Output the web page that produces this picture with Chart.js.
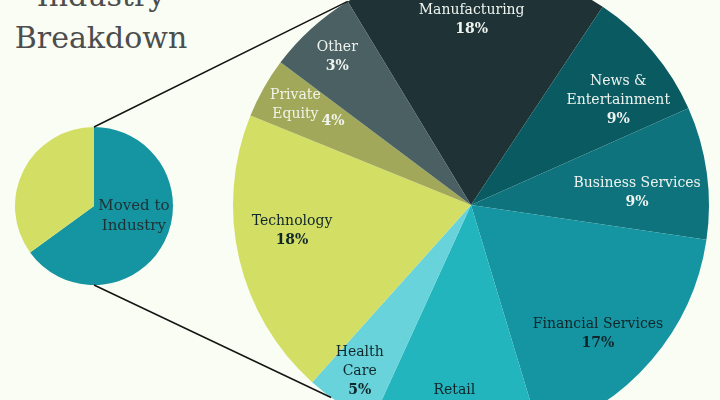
<!DOCTYPE html>
<html>
<head>
<meta charset="utf-8">
<script src="https://cdn.jsdelivr.net/npm/chart.js@4"></script>
<style>
  html, body { margin: 0; padding: 0; }
  body {
    width: 720px; height: 400px; overflow: hidden; position: relative;
    background: #f9fdf3;
  }
  #title {
    position: absolute; left: 0; top: -25px; width: 202px;
    text-align: center; font-family: "DejaVu Serif", serif;
    font-size: 30px; line-height: 42px; color: #4d4d4d;
  }
  #smallPie { position: absolute; left: 15px; top: 127px; }
  #bigPie { position: absolute; left: 221px; top: -45px; }
  #links { position: absolute; left: 0; top: 0; pointer-events: none; }
</style>
</head>
<body>
<div id="title">Industry<br>Breakdown</div>
<canvas id="smallPie" width="158" height="158"></canvas>
<canvas id="bigPie" width="500" height="500"></canvas>
<canvas id="links" width="720" height="400"></canvas>

<script>
// ---- data ----
const movedLabels = ['Moved to\nIndustry', 'Other'];
const movedShares = [65, 35];

const industries = ['Manufacturing', 'News &\nEntertainment', 'Business Services',
    'Financial Services', 'Retail', 'Health\nCare', 'Technology', 'Private\nEquity', 'Other'];
const industryShares = [18, 9, 9, 18, 11.5, 4.8, 19.5, 4.1, 6.1];
// percentages as printed on the slices
const printedPct = ['18%', '9%', '9%', '17%', '12%', '5%', '18%', '4%', '3%'];

// ---- styling / layout ----
const industryColors = ['#1f3236', '#0a5a62', '#0f737d', '#1594a1', '#23b5be',
    '#68d3da', '#d2df64', '#a2a85a', '#4a6062'];
const industryText = ['#eef3ee', '#eef3ee', '#eef3ee', '#10262a', '#10262a',
    '#10262a', '#10262a', '#f2f4ea', '#eef3ee'];
// [angle offset from slice middle (deg), fraction of radius]
const industrySpots = [[-1, 0.78], [4.7, 0.76], [3.5, 0.70], [4.6, 0.76], [1, 0.82],
    [0.6, 0.84], [4.7, 0.76], [0.3, 0.85], [0.2, 0.84]];
const SERIF = '"DejaVu Serif", serif';

const labelPlugin = {
    id: 'sliceLabels',
    afterDatasetsDraw(chart, args, opts) {
        const ctx = chart.ctx;
        const meta = chart.getDatasetMeta(0);
        ctx.save();
        ctx.textAlign = 'center';
        ctx.textBaseline = 'middle';
        meta.data.forEach((arc, i) => {
            const spot = opts.spots[i];
            if (!spot) return;
            const mid = (arc.startAngle + arc.endAngle) / 2 + spot[0] * Math.PI / 180;
            const r = arc.outerRadius * spot[1];
            const x = arc.x + Math.cos(mid) * r;
            const y = arc.y + Math.sin(mid) * r;
            const lines = opts.names[i].split('\n');
            const pct = opts.pcts ? opts.pcts[i] : null;
            const inline = opts.inline && opts.inline[i];
            const n = lines.length + (pct && !inline ? 1 : 0);
            const lh = opts.lineHeight;
            let y0 = y - (n - 1) * lh / 2;
            ctx.fillStyle = opts.colors[i];
            ctx.font = opts.font;
            lines.forEach((ln, k) => ctx.fillText(ln, x, y0 + k * lh));
            if (pct) {
                if (inline) {
                    const w = ctx.measureText(lines[lines.length - 1]).width;
                    ctx.font = 'bold ' + opts.font;
                    ctx.textAlign = 'left';
                    ctx.fillText(pct, x + w / 2 + 3, y0 + (lines.length - 1) * lh + 7);
                    ctx.textAlign = 'center';
                } else {
                    ctx.font = 'bold ' + opts.font;
                    ctx.fillText(pct, x, y0 + lines.length * lh);
                }
            }
        });
        ctx.restore();
    }
};

const smallChart = new Chart(document.getElementById('smallPie'), {
    type: 'pie',
    data: {
        labels: movedLabels,
        datasets: [{
            data: movedShares,
            backgroundColor: ['#1594a1', '#d2df64'],
            borderWidth: 0,
            hoverOffset: 0
        }]
    },
    options: {
        responsive: false,
        animation: false,
        plugins: {
            legend: { display: false },
            tooltip: { enabled: false },
            sliceLabels: {
                names: ['Moved to\nIndustry', ''],
                colors: ['#1e3134', '#1e3134'],
                spots: [[-13, 0.52], null],
                font: '15px ' + SERIF,
                lineHeight: 20
            }
        }
    },
    plugins: [labelPlugin]
});

const bigChart = new Chart(document.getElementById('bigPie'), {
    type: 'pie',
    data: {
        labels: industries,
        datasets: [{
            data: industryShares,
            backgroundColor: industryColors,
            borderWidth: 0,
            hoverOffset: 0,
            radius: 238
        }]
    },
    options: {
        responsive: false,
        animation: false,
        rotation: -31.2,
        plugins: {
            legend: { display: false },
            tooltip: { enabled: false },
            sliceLabels: {
                names: industries,
                pcts: printedPct,
                colors: industryText,
                spots: industrySpots,
                inline: [false, false, false, false, false, false, false, true, false],
                font: '14px ' + SERIF,
                lineHeight: 19
            }
        }
    },
    plugins: [labelPlugin]
});

// connector lines from the small pie to the big one
function drawLinks() {
    const cv = document.getElementById('links');
    const ctx = cv.getContext('2d');
    const sc = document.getElementById('smallPie');
    const bc = document.getElementById('bigPie');
    const s = smallChart.getDatasetMeta(0).data[0];
    const b = bigChart.getDatasetMeta(0).data[0];
    const sx = sc.offsetLeft + s.x, sy = sc.offsetTop + s.y;
    const bx = bc.offsetLeft + b.x, by = bc.offsetTop + b.y;
    const R = b.outerRadius;
    const topA = b.startAngle;
    const botA = (216 - 90) * Math.PI / 180;
    ctx.strokeStyle = '#141414';
    ctx.lineWidth = 1.5;
    ctx.beginPath();
    ctx.moveTo(sx, sy - s.outerRadius);
    ctx.lineTo(bx + R * Math.cos(topA), by + R * Math.sin(topA));
    ctx.moveTo(sx, sy + s.outerRadius);
    ctx.lineTo(bx + R * Math.cos(botA), by + R * Math.sin(botA));
    ctx.stroke();
}
drawLinks();
</script>
</body>
</html>
